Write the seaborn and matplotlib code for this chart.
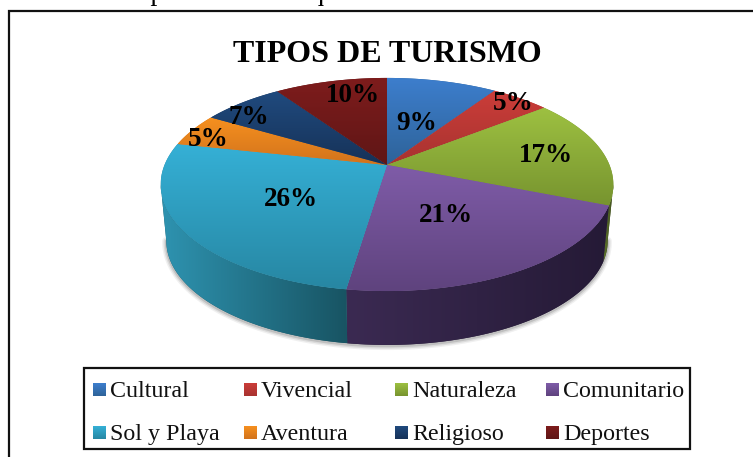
import numpy as np
import seaborn as sns
import matplotlib.pyplot as plt
from matplotlib.patches import Rectangle

# Data
categories = ["Cultural", "Vivencial", "Naturaleza", "Comunitario",
              "Sol y Playa", "Aventura", "Religioso", "Deportes"]
shares = [9.4, 5.0, 16.6, 21.4, 26.0, 5.0, 7.0, 9.6]
title = "TIPOS DE TURISMO"
caption = "Gráfico 8: Tipo de turismo que se da en el cantón Santa Elena"

# Colours, light end and dark end of each gradient
top_light = ["#3D7ECD", "#CB3D39", "#9DC041", "#7F5CA8", "#35B0D6", "#F6901F", "#204A7E", "#7E1C1C"]
top_dark = ["#2E6399", "#A83330", "#77942F", "#5F437E", "#2787A3", "#D2731C", "#163258", "#5F1616"]
wall_colors = {2: ("#5E742A", "#3F4D1F"),
               3: ("#3B2A52", "#251A36"),
               4: ("#2E93B0", "#185463")}

# Layout, in pixels of the 753x457 picture
CX, CY = 387, 165
RX, RY = 222.5, 103
TILT = 0.183
DEPTH = 57
BOTTOM_SCALE = 0.975
label_xy = [(417, 124), (513, 104), (546, 156), (446, 216),
            (291, 199), (208, 139), (249, 118), (353, 96)]
legend_x = [93, 244, 395, 546]
legend_y = [383, 426]

sns.set_theme(style="white")
plt.rcParams["font.family"] = ["Liberation Serif", "DejaVu Serif"]


def project(deg):
    # circle seen in perspective, angle runs clockwise from the top
    t = np.radians(deg)
    u, v = np.sin(t), np.cos(t)
    d = 1 + TILT * v
    return CX + RX * u / d, CY - RY * v / d


def project_bottom(deg):
    # the lower rim sits further from the viewer, so it is a bit smaller
    x, y = project(deg)
    return CX + (x - CX) * BOTTOM_SCALE, CY + DEPTH + (y - CY) * BOTTOM_SCALE


def gradient(c1, c2, horizontal=False):
    c1 = np.array(sns.color_palette([c1])[0])
    c2 = np.array(sns.color_palette([c2])[0])
    w = np.linspace(0, 1, 64)[:, None]
    img = (1 - w) * c1 + w * c2
    return img[None, :, :] if horizontal else img[:, None, :]


def fill_gradient(ax, xs, ys, c1, c2, horizontal=False, z=2):
    poly = ax.fill(xs, ys, color=c2, lw=0, zorder=z)[0]
    im = ax.imshow(gradient(c1, c2, horizontal), aspect="auto", zorder=z,
                   extent=(min(xs), max(xs), max(ys), min(ys)), interpolation="bilinear")
    im.set_clip_path(poly)


fig = plt.figure(figsize=(7.53, 4.57), dpi=100)
ax = fig.add_axes([0, 0, 1, 1])

edges = np.concatenate([[0], np.cumsum(shares)]) / np.sum(shares) * 360

# soft shadow under the pie
sx, sy = project_bottom(np.linspace(100, 260, 120))
for lw, alpha in [(6, 0.08), (4, 0.12), (2, 0.18)]:
    ax.plot(sx, sy + 1, color="#444444", lw=lw, alpha=alpha, zorder=1)

# side wall, only the part of the rim that faces us
for i, (c1, c2) in wall_colors.items():
    a0, a1 = max(edges[i], 100.5), min(edges[i + 1], 259.5)
    angles = np.linspace(a0, a1, 80)
    xs, ys = project(angles)
    bx, by = project_bottom(angles)
    fill_gradient(ax, np.r_[xs, bx[::-1]], np.r_[ys, by[::-1]], c1, c2, horizontal=True)

# top face
for i in range(len(shares)):
    xs, ys = project(np.linspace(edges[i], edges[i + 1], 80))
    fill_gradient(ax, np.r_[CX, xs], np.r_[CY, ys], top_light[i], top_dark[i], z=3)

for v, (x, y) in zip(shares, label_xy):
    ax.text(x, y, f"{v:.0f}%", ha="center", va="center", fontsize=19.5,
            fontweight="bold", color="black", zorder=5)

ax.text(387.5, 55, title, ha="center", va="center", fontsize=23, fontweight="bold", color="black")
ax.text(351, 0, caption, ha="center", va="baseline", fontsize=20, color="black")

# outer frame, runs off the picture on the right and bottom
ax.plot([9, 9, 760], [460, 11, 11], color="#111111", lw=1.6, solid_joinstyle="miter")

# legend
ax.add_patch(Rectangle((84.5, 368), 606, 81, fc="white", ec="#111111", lw=1.6, zorder=4))
for i, name in enumerate(categories):
    x, y = legend_x[i % 4], legend_y[i // 4]
    ax.imshow(gradient(top_light[i], top_dark[i]), aspect="auto", zorder=5,
              extent=(x, x + 13, y + 13, y), interpolation="bilinear")
    ax.text(x + 17, y + 14, name, ha="left", va="baseline", fontsize=17.3, color="#111111", zorder=5)

ax.set_xlim(0, 753)
ax.set_ylim(457, 0)
ax.axis("off")

fig.savefig("out.png", dpi=100, facecolor="white")
